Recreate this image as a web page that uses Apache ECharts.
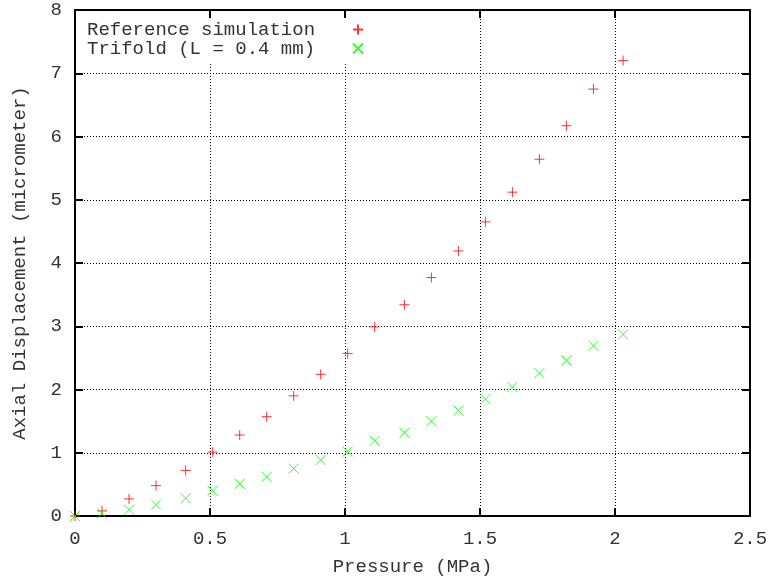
<!DOCTYPE html>
<html>
<head>
    <meta charset="UTF-8">
    <title>Axial displacement vs pressure</title>
    <script src="https://cdn.jsdelivr.net/npm/echarts@6/dist/echarts.min.js"></script>
    <style>
        body { margin: 0; background: #fff; }
        #chart { width: 774px; height: 578px; }
    </style>
</head>
<body>
<div id="chart"></div>
<script>
    // pressure (MPa) sample points
    const pressure = [0, 0.10, 0.20, 0.30, 0.41, 0.51, 0.61, 0.71, 0.81, 0.91, 1.01,
        1.11, 1.22, 1.32, 1.42, 1.52, 1.62, 1.72, 1.82, 1.92, 2.03];
    // axial displacement (micrometer)
    const refSim = [0, 0.08, 0.27, 0.48, 0.72, 1.01, 1.28, 1.57, 1.90, 2.24, 2.57,
        2.99, 3.34, 3.77, 4.19, 4.65, 5.12, 5.64, 6.17, 6.75, 7.20];
    const trifold = [0, 0.04, 0.10, 0.18, 0.28, 0.40, 0.51, 0.62, 0.75, 0.885, 1.02,
        1.19, 1.32, 1.50, 1.67, 1.85, 2.04, 2.26, 2.46, 2.69, 2.87];
    const seriesNames = ['Reference simulation', 'Trifold (L = 0.4 mm)'];

    const font = '"Liberation Mono", "DejaVu Sans Mono", monospace';
    const textColor = '#333';
    const plusPath = 'path://M5,0V10M0,5H10';
    const crossPath = 'path://M0,0L10,10M10,0L0,10';

    const chart = echarts.init(document.getElementById('chart'));

    // 刻度朝内，四边都有
    function axisCommon(show, margin) {
        return {
            axisLine: { show: true, onZero: false, lineStyle: { color: '#000', width: 2 } },
            axisTick: { show: true, inside: true, length: 8, lineStyle: { color: '#000', width: 2 } },
            axisLabel: { show: show, color: textColor, fontFamily: font, fontSize: 19, margin: margin || 8 },
            splitLine: { show: show, lineStyle: { color: '#000', width: 1, type: [1, 2] } }
        };
    }

    chart.setOption({
        animation: false,
        grid: { left: 75, right: 24, top: 10, bottom: 62, outerBoundsMode: 'none', containLabel: false },
        legend: {
            left: 81, top: 18,
            orient: 'vertical',
            align: 'right',
            itemGap: 0,
            itemWidth: 10, itemHeight: 10,
            padding: [2, 6, 6, 6],
            backgroundColor: '#fff',
            textStyle: { fontFamily: font, fontSize: 19, color: textColor, lineHeight: 19, padding: [0, 33, 0, 0] },
            data: seriesNames
        },
        xAxis: [
            Object.assign({
                type: 'value', position: 'bottom', min: 0, max: 2.5, interval: 0.5,
                name: 'Pressure (MPa)', nameLocation: 'middle', nameGap: 41,
                nameTextStyle: { fontFamily: font, fontSize: 19, color: textColor }
            }, axisCommon(true, 13)),
            Object.assign({ type: 'value', position: 'top', min: 0, max: 2.5, interval: 0.5 }, axisCommon(false))
        ],
        yAxis: [
            Object.assign({
                type: 'value', position: 'left', min: 0, max: 8, interval: 1,
                name: 'Axial Displacement (micrometer)', nameLocation: 'middle', nameGap: 46,
                nameTextStyle: { fontFamily: font, fontSize: 19, color: textColor }
            }, axisCommon(true, 13)),
            Object.assign({ type: 'value', position: 'right', min: 0, max: 8, interval: 1 }, axisCommon(false))
        ],
        series: [
            {
                name: seriesNames[0], type: 'scatter',
                symbol: plusPath, symbolSize: 10,
                itemStyle: { color: 'none', borderColor: '#ff0000', borderWidth: 1 },
                data: pressure.map((p, i) => [p, refSim[i]])
            },
            {
                name: seriesNames[1], type: 'scatter',
                symbol: crossPath, symbolSize: 10,
                itemStyle: { color: 'none', borderColor: '#00ff00', borderWidth: 1 },
                data: pressure.map((p, i) => [p, trifold[i]])
            }
        ]
    });
</script>
</body>
</html>
